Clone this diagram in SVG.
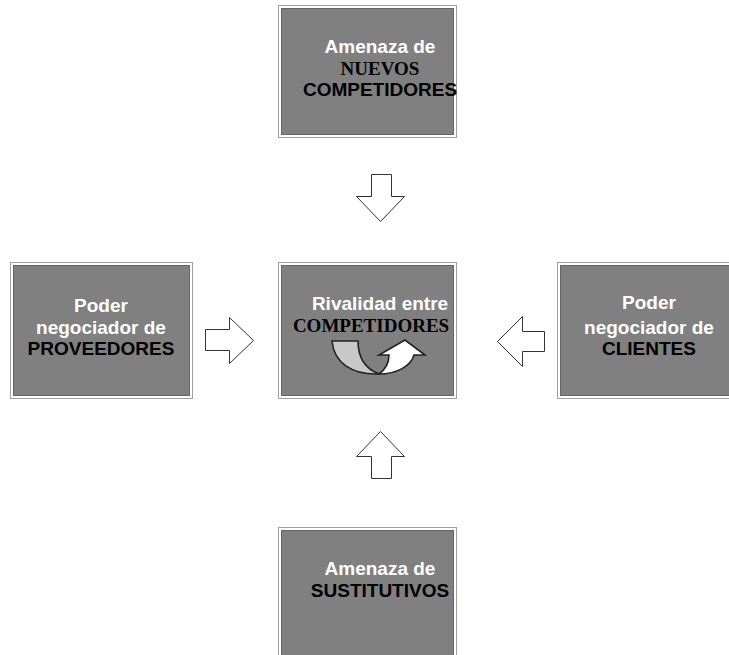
<svg xmlns="http://www.w3.org/2000/svg" width="729" height="655" viewBox="0 0 729 655">
<style>
.frame{fill:#ffffff;stroke:#a0a0a0;stroke-width:1}
.box{fill:#808080;stroke:#666666;stroke-width:1}
.w{font-family:"Liberation Sans",Arial,sans-serif;font-weight:bold;font-size:19px;fill:#ffffff;text-anchor:middle}
.k{font-family:"Liberation Sans",Arial,sans-serif;font-weight:bold;font-size:19px;fill:#000000;text-anchor:middle}
.ks{font-family:"Liberation Serif","Times New Roman",serif;font-weight:bold;font-size:19px;fill:#000000;text-anchor:middle}
.arr{fill:#ffffff;stroke:#333333;stroke-width:1;stroke-linejoin:miter}
</style>
<rect width="729" height="655" fill="#ffffff"/>
<g id="nuevos">
<rect class="frame" x="278.5" y="5.5" width="178" height="132"/>
<rect class="box" x="281.5" y="8.5" width="172" height="126"/>
<text class="w" x="380" y="53">Amenaza de</text>
<text class="ks" x="380" y="75" font-size="18">NUEVOS</text>
<text class="k" x="380" y="96">COMPETIDORES</text>
</g>
<g id="rivalidad">
<rect class="frame" x="278.5" y="262.5" width="178" height="136"/>
<rect class="box" x="281.5" y="265.5" width="172" height="130"/>
<text class="w" x="380" y="310">Rivalidad entre</text>
<text class="ks" x="371" y="332">COMPETIDORES</text>
<path d="M332,341 L358,341 C358,358 366,369 379,374 C352,375 334,363 332,341 Z" fill="#c8c8c8" stroke="#222222" stroke-width="1.6"/>
<path d="M379,374 C386,369 389,362 389,355 L379,355 L405,340 L425,355 L414,355 C411,366 397,374 379,374 Z" fill="#ffffff" stroke="#222222" stroke-width="1.6"/>
</g>
<g id="proveedores">
<rect class="frame" x="10.5" y="262.5" width="182" height="136"/>
<rect class="box" x="13.5" y="265.5" width="176" height="130"/>
<text class="w" x="101" y="312">Poder</text>
<text class="w" x="101" y="334">negociador de</text>
<text class="k" x="101" y="355">PROVEEDORES</text>
</g>
<g id="clientes">
<rect class="frame" x="557.5" y="262.5" width="185" height="136"/>
<rect class="box" x="560.5" y="265.5" width="185" height="130"/>
<text class="w" x="649" y="309">Poder</text>
<text class="w" x="649" y="334">negociador de</text>
<text class="k" x="649" y="355">CLIENTES</text>
</g>
<g id="sustitutivos">
<rect class="frame" x="278.5" y="527.5" width="178" height="140"/>
<rect class="box" x="281.5" y="530.5" width="172" height="140"/>
<text class="w" x="380" y="575">Amenaza de</text>
<text class="k" x="380" y="597">SUSTITUTIVOS</text>
</g>
<g id="connectors">
<path class="arr" d="M371.5,174.5 L391.5,174.5 L391.5,196.5 L404.5,196.5 L380.5,221.5 L356.5,196.5 L371.5,196.5 Z"/>
<path class="arr" d="M205.5,329.5 L229.5,329.5 L229.5,317.5 L253.5,340.5 L229.5,363.5 L229.5,350.5 L205.5,350.5 Z"/>
<path class="arr" d="M544.5,331.5 L522.5,331.5 L522.5,316.5 L497.5,341.5 L522.5,366.5 L522.5,351.5 L544.5,351.5 Z"/>
<path class="arr" d="M371.5,478.5 L391.5,478.5 L391.5,456.5 L404.5,456.5 L380.5,431.5 L356.5,456.5 L371.5,456.5 Z"/>
</g>
</svg>
